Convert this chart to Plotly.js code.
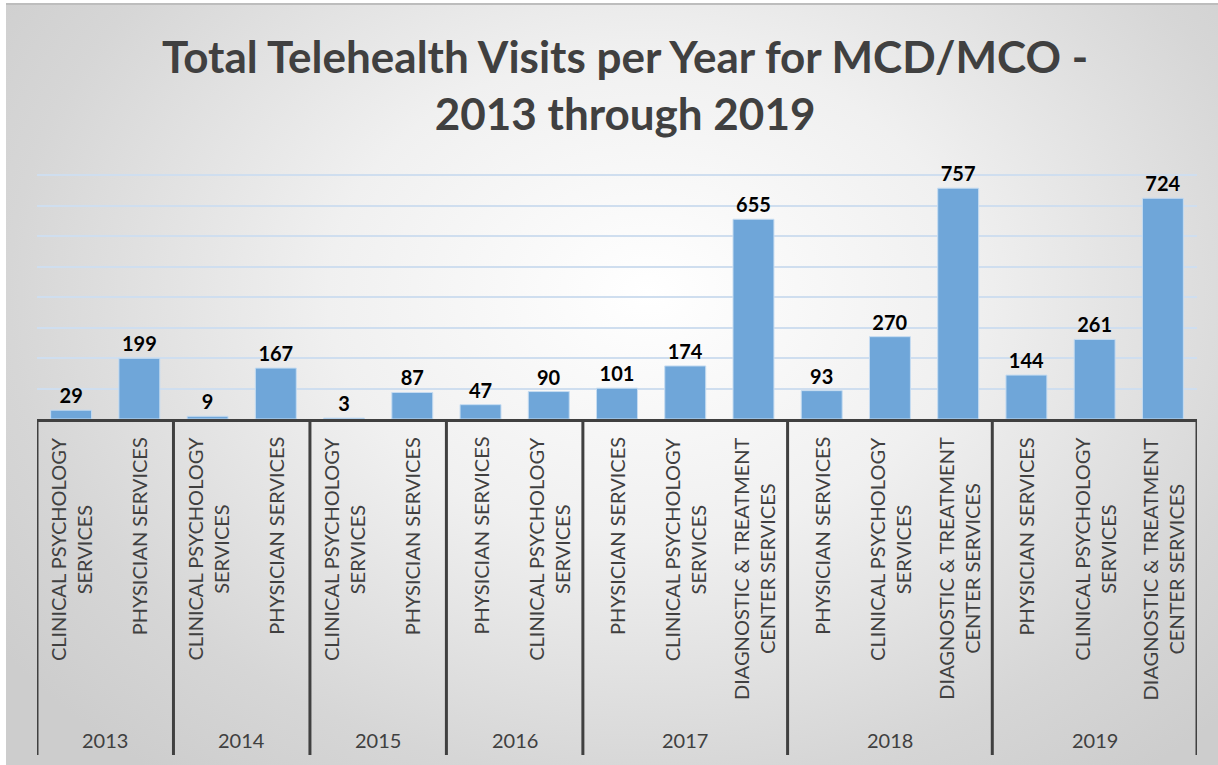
<!DOCTYPE html>
<html>
<head>
<meta charset="utf-8">
<script src="https://cdn.plot.ly/plotly-3.0.1.min.js"></script>
<style>
  html, body { margin: 0; padding: 0; background: #ffffff; }
  #bg {
    position: absolute; left: 6px; top: 3px; width: 1212px; height: 760px;
    border-top: 2px solid #bdbdbd;
    background: radial-gradient(ellipse 66% 80% at 53% 38%, #ffffff 0%, #f0f0f0 40%, #d6d6d6 80%, #cdcdcd 100%);
  }
  #chart { position: absolute; left: 0; top: 0; width: 1218px; height: 765px; }
</style>
</head>
<body>
<div id="bg"></div>
<div id="chart"></div>
<script>
// ---- data ----
const years = ['2013', '2014', '2015', '2016', '2017', '2018', '2019'];
const yearOfBar = ['2013', '2013', '2014', '2014', '2015', '2015', '2016', '2016',
  '2017', '2017', '2017', '2018', '2018', '2018', '2019', '2019', '2019'];
const serviceLabels = [
  'CLINICAL PSYCHOLOGY<br>SERVICES', 'PHYSICIAN SERVICES',
  'CLINICAL PSYCHOLOGY<br>SERVICES', 'PHYSICIAN SERVICES',
  'CLINICAL PSYCHOLOGY<br>SERVICES', 'PHYSICIAN SERVICES',
  'PHYSICIAN SERVICES', 'CLINICAL PSYCHOLOGY<br>SERVICES',
  'PHYSICIAN SERVICES', 'CLINICAL PSYCHOLOGY<br>SERVICES', 'DIAGNOSTIC & TREATMENT<br>CENTER SERVICES',
  'PHYSICIAN SERVICES', 'CLINICAL PSYCHOLOGY<br>SERVICES', 'DIAGNOSTIC & TREATMENT<br>CENTER SERVICES',
  'PHYSICIAN SERVICES', 'CLINICAL PSYCHOLOGY<br>SERVICES', 'DIAGNOSTIC & TREATMENT<br>CENTER SERVICES'
];
const visits = [29, 199, 9, 167, 3, 87, 47, 90, 101, 174, 655, 93, 270, 757, 144, 261, 724];
const titleText = 'Total Telehealth Visits per Year for MCD/MCO -<br>2013 through 2019';

// ---- build ----
const FONT = 'Lato, "Open Sans", sans-serif';
const TXT = '#404040';
const xs = visits.map((_, i) => i);

const trace = {
  type: 'bar',
  x: xs,
  y: visits,
  width: 0.6,
  marker: { color: '#6fa6d9', line: { color: '#c6dcf1', width: 1 } },
  text: visits.map(String),
  textposition: 'outside',
  constraintext: 'none',
  cliponaxis: false,
  textfont: { family: FONT, size: 20, color: '#000000', weight: 'bold' },
  hoverinfo: 'x+y'
};

const annotations = [];
const shapes = [];

// category labels (rotated)
serviceLabels.forEach((lab, i) => {
  annotations.push({
    x: xs[i], xref: 'x', y: 0, yref: 'paper',
    yshift: -16, xanchor: 'center', yanchor: 'top',
    text: lab, textangle: -90, align: 'center', showarrow: false,
    font: { family: FONT, size: 20, color: TXT }
  });
});

// year groups, labels and dividers
let start = 0;
const bounds = [-0.5];
years.forEach(yr => {
  const n = yearOfBar.filter(v => v === yr).length;
  const mid = start + (n - 1) / 2;
  annotations.push({
    x: mid, xref: 'x', y: 0, yref: 'paper', yshift: -321,
    xanchor: 'center', yanchor: 'middle', text: yr, showarrow: false,
    font: { family: FONT, size: 20, color: TXT }
  });
  start += n;
  bounds.push(start - 0.5);
});
bounds.forEach(b => {
  shapes.push({
    type: 'line', xref: 'x', yref: 'paper', ysizemode: 'pixel', yanchor: 0,
    x0: b, x1: b, y0: 0, y1: -336,
    line: { color: TXT, width: 3 }
  });
});

const layout = {
  width: 1218, height: 765,
  margin: { l: 37, r: 21, t: 172, b: 346 },
  paper_bgcolor: 'rgba(0,0,0,0)',
  plot_bgcolor: 'rgba(0,0,0,0)',
  showlegend: false,
  title: {
    text: titleText,
    x: 0.507, xanchor: 'center', xref: 'paper',
    y: 0.905, yanchor: 'top', yref: 'container',
    font: { family: FONT, size: 44, color: TXT, weight: 'bold' }
  },
  xaxis: {
    range: [-0.5, visits.length - 0.5],
    showticklabels: false, showgrid: false, zeroline: false,
    showline: true, linecolor: TXT, linewidth: 3, ticks: '',
    fixedrange: true
  },
  yaxis: {
    range: [0, 810], dtick: 100,
    showticklabels: false, showgrid: true, gridcolor: '#cfdeef', gridwidth: 2,
    zeroline: false, showline: false, ticks: '', fixedrange: true
  },
  annotations: annotations,
  shapes: shapes
};

Plotly.newPlot('chart', [trace], layout, { displayModeBar: false, staticPlot: true });
</script>
</body>
</html>
